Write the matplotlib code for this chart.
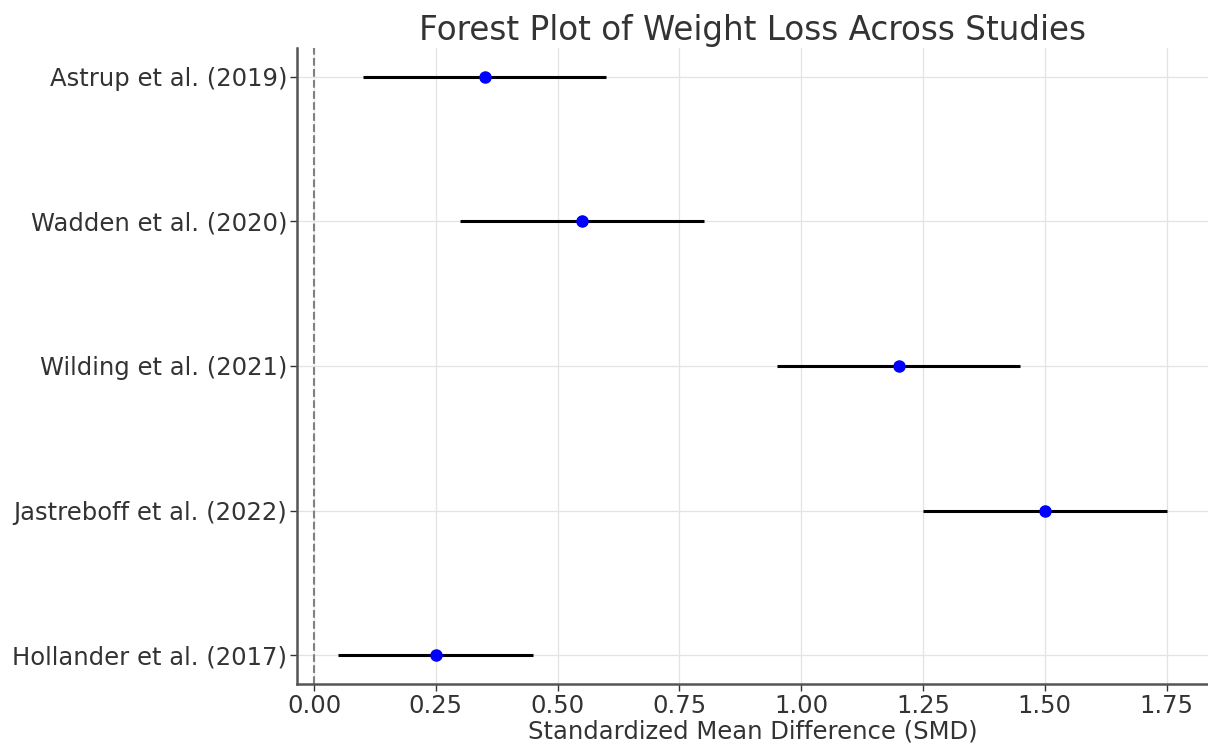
import numpy as np
from matplotlib import pyplot as plt

studies = ["Astrup et al. (2019)", "Wadden et al. (2020)", "Wilding et al. (2021)",
           "Jastreboff et al. (2022)", "Hollander et al. (2017)"]
smd = [0.35, 0.55, 1.20, 1.50, 0.25]
ci_low = [0.10, 0.30, 0.95, 1.25, 0.05]
ci_high = [0.60, 0.80, 1.45, 1.75, 0.45]

fig = plt.figure(figsize=(12.08, 7.43), dpi=100)
ax = fig.add_axes([297/1208, 59/743, 1 - 297/1208, (684-48)/743])

y = np.arange(len(studies))[::-1]
ax.hlines(y, ci_low, ci_high, color='black', linewidth=2.2, zorder=3)
ax.plot(smd, y, 'o', color='blue', markersize=8, zorder=4)
ax.axvline(0, color='gray', linestyle='--', linewidth=1.5, zorder=2)

ax.set_yticks(y)
ax.set_yticklabels(studies)
ax.set_xticks([0, 0.25, 0.5, 0.75, 1.0, 1.25, 1.5, 1.75])
ax.set_xlim(-0.035, 1.835)
ax.set_ylim(-0.2, 4.2)
ax.grid(True, color='#e3e3e3', linewidth=0.9)
ax.set_axisbelow(True)

for s in ['top', 'right']:
    ax.spines[s].set_visible(False)
for s in ['left', 'bottom']:
    ax.spines[s].set_color('#555555')
    ax.spines[s].set_linewidth(1.8)
ax.tick_params(colors='#333333', labelsize=17.5, length=5, width=1, pad=2)

ax.set_xlabel("Standardized Mean Difference (SMD)", fontsize=17.5, color='#333333', labelpad=1)
ax.set_title("Forest Plot of Weight Loss Across Studies", fontsize=23.5, color='#333333', pad=6)

fig.savefig("out.png", dpi=100)
